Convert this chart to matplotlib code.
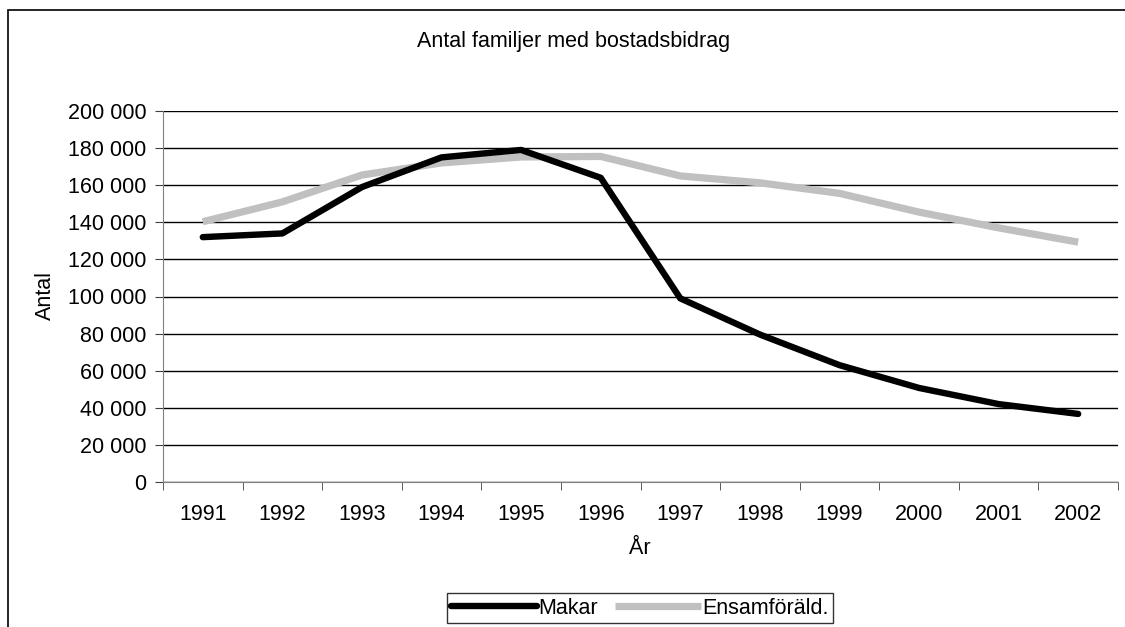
import matplotlib
matplotlib.use("Agg")
import matplotlib.pyplot as plt
from matplotlib.patches import Rectangle
from matplotlib.ticker import FuncFormatter, FixedLocator
import numpy as np

years = ["1991", "1992", "1993", "1994", "1995", "1996", "1997", "1998", "1999", "2000", "2001", "2002"]
makar = [132000, 134000, 159000, 175000, 179000, 164000, 99000, 79500, 63000, 50700, 42000, 36700]
ensam = [140300, 151000, 165500, 172000, 175200, 175500, 165000, 161300, 155600, 145500, 137000, 129300]

title = "Antal familjer med bostadsbidrag"
xlabel = "År"
ylabel = "Antal"
series_names = ["Makar", "Ensamföräld."]

plt.rcParams['font.family'] = ['Liberation Sans', 'DejaVu Sans']
FS = 15.5

W, H = 1125, 627
fig = plt.figure(figsize=(W / 100, H / 100), dpi=100)
ax = fig.add_axes([163 / W, 1 - 482 / H, (1118 - 163) / W, (482 - 111) / H])

x = np.arange(len(years))
l1, = ax.plot(x, makar, color="black", lw=4.6, solid_capstyle="round", solid_joinstyle="round", zorder=3)
l2, = ax.plot(x, ensam, color="#c0c0c0", lw=5.2, solid_capstyle="butt", solid_joinstyle="miter", zorder=2)

ax.set_xlim(-0.5, len(years) - 0.5)
ax.set_ylim(0, 200000)
ax.set_yticks(np.arange(0, 200001, 20000))
ax.yaxis.set_major_formatter(FuncFormatter(lambda v, p: f"{int(v):,}".replace(",", " ")))
ax.yaxis.grid(True, color="black", lw=1.0)
ax.set_axisbelow(True)

ax.set_xticks(x)
ax.set_xticklabels(years)
ax.xaxis.set_minor_locator(FixedLocator(np.arange(-0.5, len(years), 1.0)))
ax.tick_params(axis="x", which="major", length=0, pad=16, labelsize=FS)
ax.tick_params(axis="x", which="minor", length=6, direction="out", color="#404040")
ax.tick_params(axis="y", which="major", length=6, direction="out", color="#404040", pad=6, labelsize=FS)

for s in ["top", "right"]:
    ax.spines[s].set_visible(False)
ax.spines["left"].set_color("#808080")
ax.spines["bottom"].set_color("#808080")

fig.text(574 / W, 1 - 42 / H, title, ha="center", va="center", fontsize=FS)
fig.text(640 / W, 1 - 549 / H, xlabel, ha="center", va="center", fontsize=FS)
fig.text(45 / W, 1 - 296 / H, ylabel, ha="center", va="center", rotation=90, fontsize=FS)

leg = fig.legend([l1, l2], series_names, loc="center", bbox_to_anchor=(640 / W, 1 - 608 / H),
                 ncol=2, frameon=True, fancybox=False, edgecolor="black", fontsize=FS,
                 handlelength=4.0, handletextpad=0.05, columnspacing=0.8, borderpad=0.2,
                 borderaxespad=0)
leg.get_frame().set_linewidth(1.0)

fig.patches.append(Rectangle((8 / W, -0.05), 2.0, 1 - 10 / H + 0.05, transform=fig.transFigure,
                             fill=False, edgecolor="black", lw=1.2))

fig.savefig("out.png", dpi=100)
